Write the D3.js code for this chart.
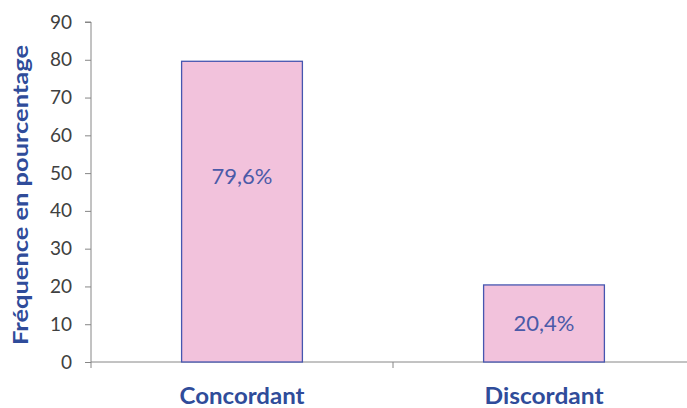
<!DOCTYPE html>
<html><head><meta charset="utf-8">
<script src="https://cdn.jsdelivr.net/npm/d3@7"></script>
<style>body{margin:0;background:#fff}svg{display:block}</style>
</head><body>
<script>
const categories = ["Concordant", "Discordant"];
const values = [79.6, 20.4];
const valueLabels = ["79,6%", "20,4%"];
const labelAnchors = [49.2, 10.2]; // vertical position (in data units) of the value labels
const yTicks = [0, 10, 20, 30, 40, 50, 60, 70, 80, 90];
const yTitle = "Fréquence en pourcentage";

const W = 687, H = 408;
const svg = d3.select("body").append("svg").attr("width", W).attr("height", H);
const x0 = 91, x1 = 695, yTop = 22, yBot = 362;
const x = d3.scaleBand().domain(categories).range([x0, x1]).paddingInner(0).paddingOuter(0);
const y = d3.scaleLinear().domain([0, 90]).range([yBot, yTop]);
const font = "Lato, 'Open Sans', sans-serif";
const axisColor = "#868686";

// y axis
const ya = svg.append("g").attr("transform", `translate(${x0},0)`)
  .call(d3.axisLeft(y).tickValues(yTicks).tickSize(6).tickPadding(13).tickFormat(d3.format("d")));
ya.select(".domain").attr("stroke", axisColor).attr("d", `M-6,${yTop}H0V${yBot + 6}`);
ya.selectAll(".tick line").attr("stroke", axisColor);
ya.selectAll(".tick text").attr("fill", "#404040").style("font-family", font).style("font-size", "19px");

// x axis line and ticks at band boundaries
svg.append("line").attr("x1", x0).attr("x2", W).attr("y1", yBot).attr("y2", yBot)
  .attr("stroke", axisColor).attr("stroke-width", 1);
svg.append("line").attr("x1", x(categories[1])).attr("x2", x(categories[1]))
  .attr("y1", yBot).attr("y2", yBot + 6).attr("stroke", axisColor);

// bars
const bw = x.bandwidth() * 0.4;
svg.selectAll("rect.bar").data(values).join("rect").attr("class", "bar")
  .attr("x", (d, i) => x(categories[i]) + (x.bandwidth() - bw) / 2)
  .attr("y", d => y(d))
  .attr("width", bw)
  .attr("height", d => y(0) - y(d))
  .attr("fill", "#F2C2DC").attr("stroke", "#4656B0").attr("stroke-width", 1.3);

// value labels
svg.selectAll("text.vl").data(values).join("text").attr("class", "vl")
  .attr("x", (d, i) => x(categories[i]) + x.bandwidth() / 2)
  .attr("y", (d, i) => y(labelAnchors[i]))
  .attr("dy", "0.36em").attr("text-anchor", "middle")
  .attr("fill", "#4A5AA8").style("font-family", font).style("font-size", "22px")
  .text((d, i) => valueLabels[i]);

// category labels
const catLen = [125, 119];
svg.selectAll("text.cat").data(categories).join("text").attr("class", "cat")
  .attr("x", d => x(d) + x.bandwidth() / 2).attr("y", 404)
  .attr("text-anchor", "middle").attr("fill", "#2F4C9A")
  .attr("textLength", (d, i) => catLen[i]).attr("lengthAdjust", "spacingAndGlyphs")
  .style("font-family", font).style("font-size", "22px").style("font-weight", "bold")
  .text(d => d);

// y title
svg.append("text").attr("transform", `translate(28,195) rotate(-90)`)
  .attr("text-anchor", "middle").attr("fill", "#2F4C9A")
  .attr("textLength", 300).attr("lengthAdjust", "spacingAndGlyphs")
  .style("font-family", font).style("font-size", "21px").style("font-weight", "bold")
  .text(yTitle);
</script>
</body></html>
